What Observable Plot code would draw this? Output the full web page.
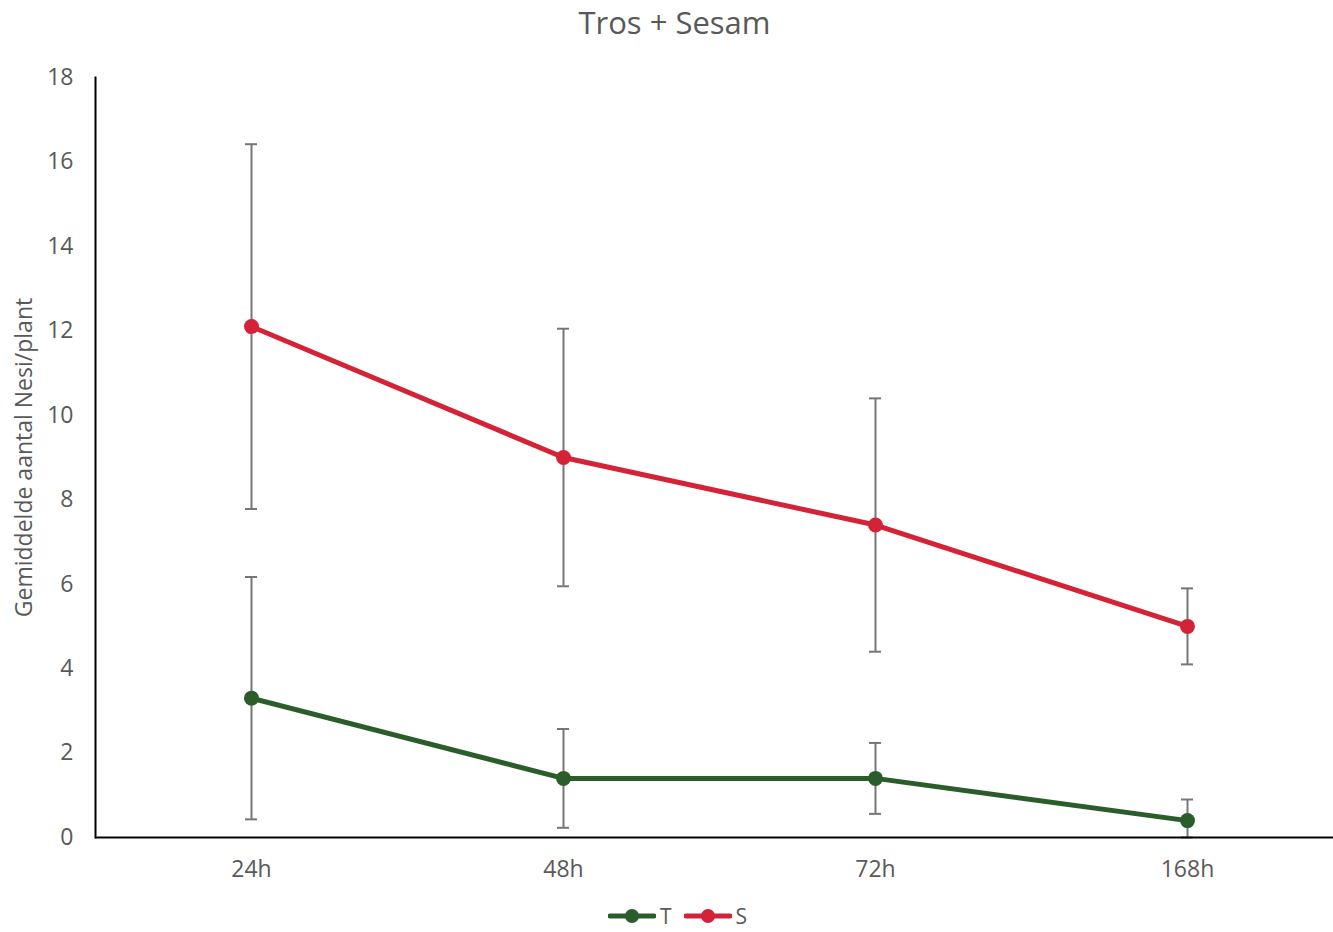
<!DOCTYPE html>
<html><head><meta charset="utf-8">
<script src="https://cdn.jsdelivr.net/npm/d3@7"></script>
<script src="https://cdn.jsdelivr.net/npm/@observablehq/plot@0.6"></script>
<style>
html,body{margin:0;padding:0;background:#fff;}
body{width:1333px;height:932px;font-family:"Open Sans",sans-serif;color:#595959;}
#title{height:45px;line-height:45px;text-align:center;font-size:31px;padding-left:16px;box-sizing:border-box;}
#chart{height:850px;}
#chart svg{display:block;}
#legend{height:37px;padding-top:5px;display:flex;justify-content:center;align-items:center;padding-left:22px;box-sizing:border-box;font-size:21px;line-height:24px;gap:12px;}
#legend .item{display:flex;align-items:center;gap:4px;}
</style>
</head><body>
<div id="title">Tros + Sesam</div>
<div id="chart"></div>
<div id="legend"></div>
<script>
const categories = ["24h", "48h", "72h", "168h"];
const seriesNames = ["T", "S"];
const seriesColors = ["#2b5d2a", "#d42236"];
const valuesT = [3.3, 1.4, 1.4, 0.4];
const errorsT = [2.87, 1.17, 0.84, 0.5];
const valuesS = [12.1, 9.0, 7.4, 5.0];
const errorsS = [4.32, 3.05, 3.0, 0.9];
const yTicks = [0, 2, 4, 6, 8, 10, 12, 14, 16, 18];
const yLabel = "Gemiddelde aantal Nesi/plant";

const rows = [];
[[valuesT, errorsT], [valuesS, errorsS]].forEach(([vals, errs], s) => {
  categories.forEach((c, i) => {
    rows.push({cat: c, series: seriesNames[s], value: vals[i],
      lo: Math.max(0, vals[i] - errs[i]), hi: vals[i] + errs[i]});
  });
});

const errColor = "#767676";
const fs = 23;
const plot = Plot.plot({
  width: 1333, height: 850,
  marginTop: 32, marginBottom: 58, marginLeft: 95, marginRight: -10,
  style: {fontFamily: "Open Sans", fontSize: fs + "px", color: "#595959", background: "#fff", overflow: "visible"},
  x: {type: "band", domain: categories, paddingInner: 0, paddingOuter: 0, label: null},
  y: {domain: [0, 18], label: null},
  color: {domain: seriesNames, range: seriesColors},
  marks: [
    Plot.axisY({ticks: yTicks, tickSize: 0, tickPadding: 22, fontSize: fs, label: yLabel, labelAnchor: "center", labelArrow: "none", labelOffset: 80, fill: "#595959"}),
    Plot.axisX({tickSize: 0, tickPadding: 23, fontSize: fs, label: null, fill: "#595959"}),
    Plot.ruleX(rows, {x: "cat", y1: "lo", y2: "hi", stroke: errColor, strokeWidth: 2}),
    Plot.tickY(rows, {x: "cat", y: "hi", insetLeft: 150, insetRight: 150, stroke: errColor, strokeWidth: 2}),
    Plot.tickY(rows, {x: "cat", y: "lo", insetLeft: 150, insetRight: 150, stroke: errColor, strokeWidth: 2}),
    Plot.line(rows, {x: "cat", y: "value", z: "series", stroke: "series", strokeWidth: 5}),
    Plot.dot(rows, {x: "cat", y: "value", fill: "series", r: 7.5}),
    Plot.ruleY([0], {stroke: "#000", strokeWidth: 2}),
    Plot.frame({anchor: "left", stroke: "#000", strokeWidth: 2})
  ]
});
document.getElementById("chart").appendChild(plot);

const legend = document.getElementById("legend");
seriesNames.forEach((name, i) => {
  const item = document.createElement("span");
  item.className = "item";
  item.innerHTML = `<svg width="48" height="16"><line x1="2" y1="8" x2="46" y2="8" stroke="${seriesColors[i]}" stroke-width="5" stroke-linecap="round"/><circle cx="24" cy="8" r="7" fill="${seriesColors[i]}"/></svg><span>${name}</span>`;
  legend.appendChild(item);
});
</script>
</body></html>
